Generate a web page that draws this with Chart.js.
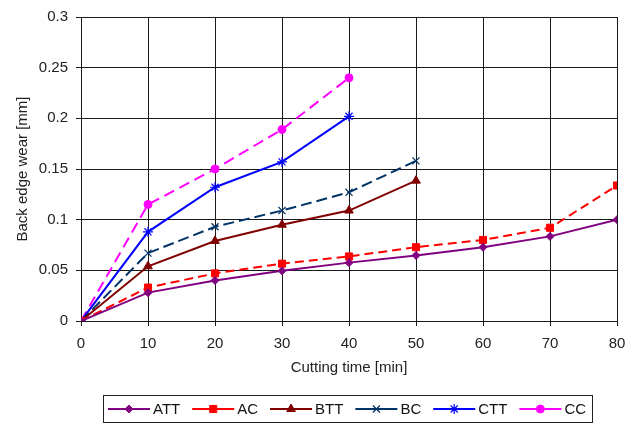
<!DOCTYPE html>
<html>
<head>
<meta charset="utf-8">
<script src="https://cdn.jsdelivr.net/npm/chart.js@4/dist/chart.umd.min.js"></script>
<style>
  body { margin: 0; background: #fff; }
  canvas { display: block; }
</style>
</head>
<body>
<canvas id="grafico" width="635" height="424"></canvas>
<script>
// cutting time [min]
const timeA = [0, 10, 20, 30, 40, 50, 60, 70, 80];
const timeB = [0, 10, 20, 30, 40, 50];
const timeC = [0, 10, 20, 30, 40];

// back edge wear [mm]
const att = [0, 0.028, 0.040, 0.0495, 0.0576, 0.0647, 0.0728, 0.0835, 0.100];
const ac  = [0, 0.033, 0.047, 0.0566, 0.0637, 0.0728, 0.080, 0.092, 0.1337];
const btt = [0, 0.054, 0.079, 0.095, 0.109, 0.1385];
const bc  = [0, 0.067, 0.093, 0.109, 0.127, 0.158];
const ctt = [0, 0.088, 0.132, 0.157, 0.202];
const cc  = [0, 0.115, 0.150, 0.189, 0.240];

const xTicks = [0, 10, 20, 30, 40, 50, 60, 70, 80];
const yTicks = [0, 0.05, 0.1, 0.15, 0.2, 0.25, 0.3];

const pts = (xs, ys) => xs.map((x, i) => ({ x: x, y: ys[i] }));

function serie(label, xs, ys, color, style, radius, dash) {
    return {
        label: label,
        data: pts(xs, ys),
        borderColor: color,
        backgroundColor: color,
        borderWidth: 2,
        borderDash: dash,
        pointStyle: style,
        pointRadius: radius,
        pointBorderWidth: (style === 'crossRot' || style === 'star') ? 1.2 : 1,
        pointBorderColor: color,
        pointBackgroundColor: color,
        tension: 0
    };
}

const datasets = [
    serie('ATT', timeA, att, '#800080', 'rectRot', 4, []),
    serie('AC', timeA, ac, '#ff0000', 'rect', 5, [9, 5]),
    serie('BTT', timeB, btt, '#800000', 'triangle', 5, []),
    serie('BC', timeB, bc, '#003366', 'crossRot', 5, [11, 5]),
    serie('CTT', timeC, ctt, '#0000ff', 'star', 5, []),
    serie('CC', timeC, cc, '#ff00ff', 'circle', 4, [11, 6])
];

const fonte = 'Liberation Sans, Arial, sans-serif';

// legend drawn under the plot: line - marker - line, then text
const legenda = {
    id: 'legenda',
    afterDraw(chart) {
        const c = chart.ctx;
        c.save();
        c.strokeStyle = '#222';
        c.lineWidth = 1;
        c.setLineDash([]);
        c.strokeRect(103.5, 395.5, 489, 27);
        c.font = '15px ' + fonte;
        c.textBaseline = 'middle';
        let x = 108;
        const y = 409;
        chart.data.datasets.forEach(ds => {
            c.strokeStyle = ds.borderColor;
            c.fillStyle = ds.borderColor;
            c.lineWidth = 2;
            c.setLineDash([]);
            c.beginPath();
            c.moveTo(x, y);
            c.lineTo(x + 42, y);
            c.stroke();
            c.lineWidth = ds.pointBorderWidth;
            Chart.helpers.drawPoint(c, {
                pointStyle: ds.pointStyle,
                radius: ds.pointRadius,
                borderWidth: ds.pointBorderWidth
            }, x + 21, y);
            c.fillStyle = '#111';
            c.fillText(ds.label, x + 45, y + 1);
            x += 45 + c.measureText(ds.label).width + 12;
        });
        c.restore();
    }
};

const ctx = document.getElementById('grafico').getContext('2d');
const grafico = new Chart(ctx, {
    type: 'line',
    data: { datasets: datasets },
    options: {
        responsive: false,
        animation: false,
        layout: { padding: { top: 12, right: 18, bottom: 43, left: 0 } },
        plugins: {
            legend: { display: false },
            tooltip: { enabled: false }
        },
        scales: {
            x: {
                type: 'linear',
                min: 0,
                max: 80,
                afterBuildTicks: s => { s.ticks = xTicks.map(v => ({ value: v })); },
                afterFit: s => { s.height = 60; },
                grid: { color: '#1a1a1a', lineWidth: 1, tickLength: 5, tickColor: '#1a1a1a' },
                border: { color: '#1a1a1a' },
                ticks: { color: '#222', font: { family: fonte, size: 15 }, padding: 9, maxRotation: 0 },
                title: {
                    display: true,
                    text: 'Cutting time [min]',
                    color: '#222',
                    font: { family: fonte, size: 15 },
                    padding: { top: 4, bottom: 4 }
                }
            },
            y: {
                min: 0,
                max: 0.3,
                afterBuildTicks: s => { s.ticks = yTicks.map(v => ({ value: v })); },
                afterFit: s => { s.width = 81; },
                grid: { color: '#1a1a1a', lineWidth: 1, tickLength: 5, tickColor: '#1a1a1a' },
                border: { color: '#1a1a1a' },
                ticks: {
                    color: '#222',
                    font: { family: fonte, size: 15 },
                    padding: 8,
                    callback: v => String(Math.round(v * 100) / 100)
                },
                title: {
                    display: true,
                    text: 'Back edge wear [mm]',
                    color: '#222',
                    font: { family: fonte, size: 15 },
                    padding: { top: 14, bottom: 0 }
                }
            }
        }
    },
    plugins: [legenda]
});
</script>
</body>
</html>
